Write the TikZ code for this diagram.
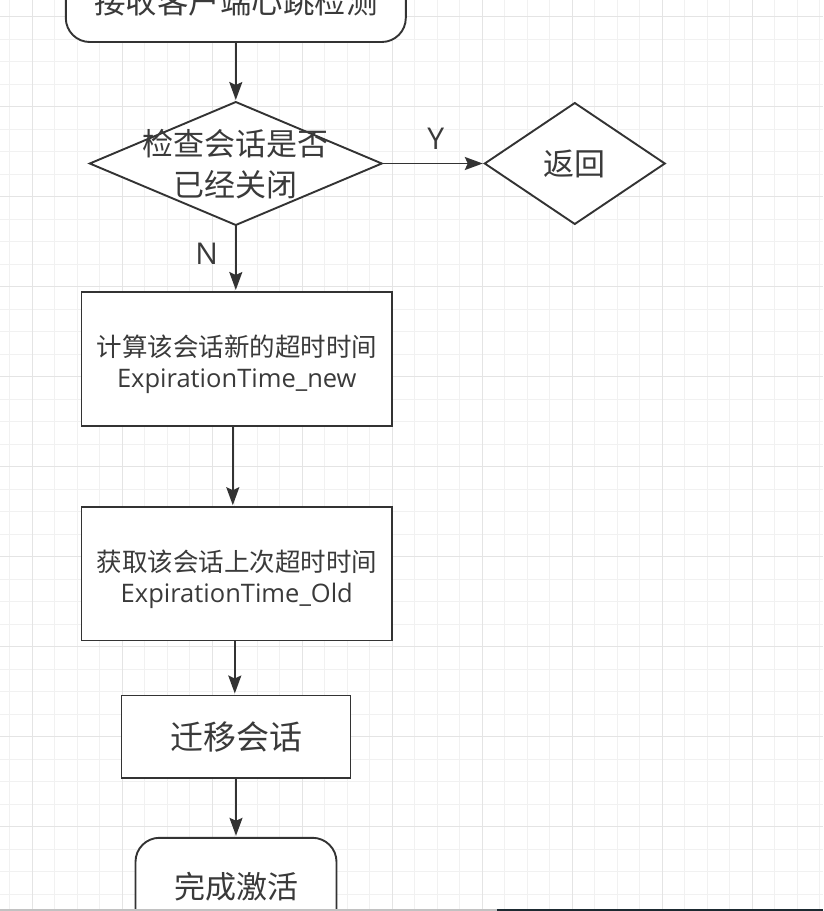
\documentclass[tikz,border=0pt]{standalone}
\usepackage{fontspec}
\setmainfont{Open Sans}
\newfontfamily\cjk{Noto Sans CJK SC}
\usepackage{xcolor}
\usetikzlibrary{arrows.meta,positioning,shapes.geometric}
\definecolor{linecol}{HTML}{333333}
\definecolor{txtcol}{HTML}{3A3A3A}
\definecolor{gridminor}{HTML}{F1F1F1}
\definecolor{gridmajor}{HTML}{E4E4E4}
\definecolor{barlight}{HTML}{C2C2C2}
\definecolor{bardark}{HTML}{1D2A31}
\newcommand{\toplift}{\rule{0pt}{32.5pt}}
\tikzset{
  block/.style={draw=linecol, line width=1.9pt, fill=white, align=center,
    text=txtcol, inner sep=0pt, outer sep=0pt},
  termblock/.style={block, rounded corners=24pt},
  decision/.style={block, diamond},
  flowtext/.style={text=txtcol, align=center, inner sep=0pt},
  arr/.style={-{Stealth[length=18pt,width=13pt,inset=3pt]}, draw=linecol,
    line width=1.9pt, shorten >=2pt},
  edgelbl/.style={text=txtcol, inner sep=0pt, font=\fontsize{30}{36}\selectfont},
  gridline/.style={draw=gridminor, line width=1pt},
  gridmain/.style={draw=gridmajor, line width=1pt}
}

\begin{document}
\begin{tikzpicture}[x=1pt, y=-1pt]

  \useasboundingbox (0,0) rectangle (823,911);
  \clip (0,0) rectangle (823,911);
  \fill[white] (0,0) rectangle (823,911);

  % ---- Background grid ----
  \foreach \i in {0,...,36} \draw[gridline] (9.8+22.5*\i,0) -- ++(0,911);
  \foreach \j in {0,...,39} \draw[gridline] (0,16.5+22.5*\j) -- ++(823,0);
  \foreach \i in {0,...,8} \draw[gridmain] (32.3+90*\i,0) -- ++(0,911);
  \foreach \j in {0,...,9} \draw[gridmain] (0,16.5+90*\j) -- ++(823,0);

  % ---- Heartbeat check ----
  \node[termblock, minimum width=340pt, minimum height=82pt,
    font=\fontsize{31.5}{38}\selectfont] (recv) at (235.8,1) {\cjk 接收客户端心跳检测};

  \node[decision, below=60pt of recv, minimum width=292pt, minimum height=123pt] (chk) {};
  \node[flowtext, font=\fontsize{31}{41}\selectfont] (chktxt) at ([yshift=-1pt]chk.center)
    {{\cjk 检查会话是否}\\{\cjk 已经关闭}};

  \node[decision, right=103pt of chk, minimum width=180pt, minimum height=121pt,
    font=\fontsize{31}{38}\selectfont] (ret) {\cjk 返回};

  \draw[arr] (recv.south) -- (chk.north);
  \draw[arr] (chk.east) -- node[edgelbl, midway, xshift=2.5pt, yshift=24.5pt] (ylbl) {Y} (ret.west);

  % ---- Expiration time ----
  \node[block, below=67pt of chk, xshift=1pt, minimum width=310.6pt, minimum height=133.7pt,
    font=\fontsize{25.5}{31}\selectfont] (calc)
    {\toplift{\cjk 计算该会话新的超时时间}\\ExpirationTime\_new};
  \node[block, below=81.5pt of calc, minimum width=310.6pt, minimum height=133.3pt,
    font=\fontsize{25.5}{31}\selectfont] (fetch)
    {\toplift{\cjk 获取该会话上次超时时间}\\ExpirationTime\_Old};

  \draw[arr] (chk.south) -- node[edgelbl, midway, xshift=-29pt, yshift=4.5pt] (nlbl) {N}
    (chk.south |- calc.north);
  \draw[arr] ([xshift=-4pt]calc.south) -- ([xshift=-4pt]fetch.north);

  % ---- Migration ----
  \node[block, below=55pt of fetch, xshift=-0.8pt, minimum width=229pt, minimum height=82.3pt,
    font=\fontsize{33}{40}\selectfont] (move) {\cjk 迁移会话};
  \node[termblock, below=60pt of move, minimum width=201pt, minimum height=98pt,
    font=\fontsize{31}{38}\selectfont] (done) {\cjk 完成激活};

  \draw[arr] ([xshift=-2pt]fetch.south) -- ([xshift=-2pt]fetch.south |- move.north);
  \draw[arr] (move.south) -- (done.north);

  % screenshot edge
  \fill[barlight] (0,909) rectangle (497,911);
  \fill[bardark] (497,909) rectangle (823,911);

\end{tikzpicture}
\end{document}
